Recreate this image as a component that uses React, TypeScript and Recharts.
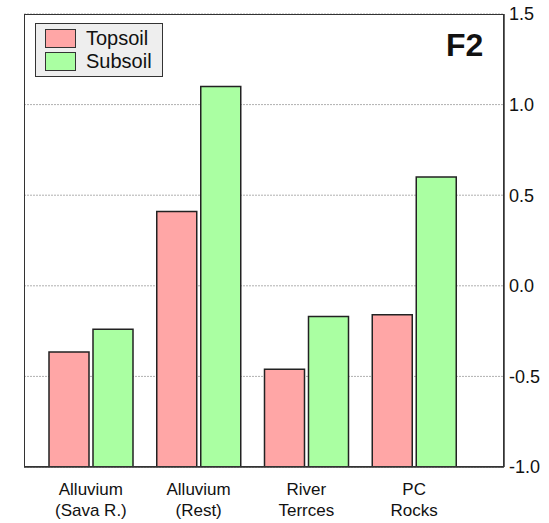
import React from 'react';
import { BarChart, Bar, XAxis, YAxis, CartesianGrid } from 'recharts';

const categories = ['Alluvium\n(Sava R.)', 'Alluvium\n(Rest)', 'River\nTerrces', 'PC\nRocks'];
const topsoil = [-0.365, 0.41, -0.46, -0.16];
const subsoil = [-0.24, 1.1, -0.17, 0.6];
const yTicks = [-1.0, -0.5, 0.0, 0.5, 1.0, 1.5];
const seriesNames = ['Topsoil', 'Subsoil'];
const seriesColors = ['#ffa6a6', '#aaffa2'];

const Y_MIN = -1;
const Y_MAX = 1.5;
const FONT = '"Liberation Sans", Arial, Helvetica, sans-serif';

const data = categories.map((name, i) => ({ name, Topsoil: topsoil[i], Subsoil: subsoil[i] }));

const TwoLineTick = (props: any) => {
  const { x, y, payload } = props;
  const lines = String(payload.value).split('\n');
  return (
    <text x={x} y={y} textAnchor="middle" fill="#111" fontSize={17} fontFamily={FONT}>
      {lines.map((line, i) => (
        <tspan key={i} x={x} dy={i === 0 ? 20 : 21}>
          {line}
        </tspan>
      ))}
    </text>
  );
};

export default function App() {
  return (
    <div style={{ position: 'absolute', left: 0, top: 0, width: 549, height: 523, background: '#fff' }}>
      <BarChart
        width={549}
        height={523}
        data={data}
        margin={{ top: 14, right: 0, bottom: 6, left: 24 }}
        barSize={40}
        barGap={4}
      >
        <CartesianGrid vertical={false} stroke="#b0b0b0" strokeDasharray="2 1" />
        <XAxis
          dataKey="name"
          padding={{ left: 13, right: 36 }}
          height={50}
          tickLine={false}
          axisLine={{ stroke: '#333', strokeWidth: 1.5 }}
          tick={<TwoLineTick />}
          interval={0}
        />
        <YAxis
          orientation="right"
          width={45}
          domain={[Y_MIN, Y_MAX]}
          ticks={yTicks}
          tickFormatter={(v: number) => v.toFixed(1)}
          tickLine={false}
          tickMargin={-1}
          axisLine={{ stroke: '#333', strokeWidth: 1.5 }}
          tick={{ fill: '#111', fontSize: 18, fontFamily: FONT }}
          allowDataOverflow
        />
        {seriesNames.map((s, i) => (
          <Bar
            key={s}
            name={s}
            dataKey={(d: any) => [Y_MIN, d[s]]}
            fill={seriesColors[i]}
            stroke="#222"
            strokeWidth={1.5}
            isAnimationActive={false}
          />
        ))}
      </BarChart>
      {/* plot frame */}
      <div
        style={{
          position: 'absolute',
          left: 24,
          top: 14,
          width: 480,
          height: 453,
          boxSizing: 'border-box',
          border: '1.5px solid #333',
          pointerEvents: 'none',
        }}
      />
      {/* legend */}
      <div
        style={{
          position: 'absolute',
          left: 35,
          top: 23,
          width: 128,
          height: 54,
          boxSizing: 'border-box',
          background: '#eeeeee',
          border: '1.5px solid #333',
          padding: '3px 0 0 9px',
          fontFamily: FONT,
          fontSize: 20,
          color: '#111',
        }}
      >
        {seriesNames.map((s, i) => (
          <div key={s} style={{ display: 'flex', alignItems: 'center', height: 23 }}>
            <span
              style={{
                display: 'inline-block',
                width: 31,
                height: 19,
                boxSizing: 'border-box',
                background: seriesColors[i],
                border: '1.5px solid #333',
                marginRight: 10,
              }}
            />
            {s}
          </div>
        ))}
      </div>
      <div
        style={{
          position: 'absolute',
          left: 446,
          top: 27,
          fontFamily: FONT,
          fontWeight: 'bold',
          fontSize: 32,
          lineHeight: '36px',
          color: '#111',
        }}
      >
        F2
      </div>
    </div>
  );
}
